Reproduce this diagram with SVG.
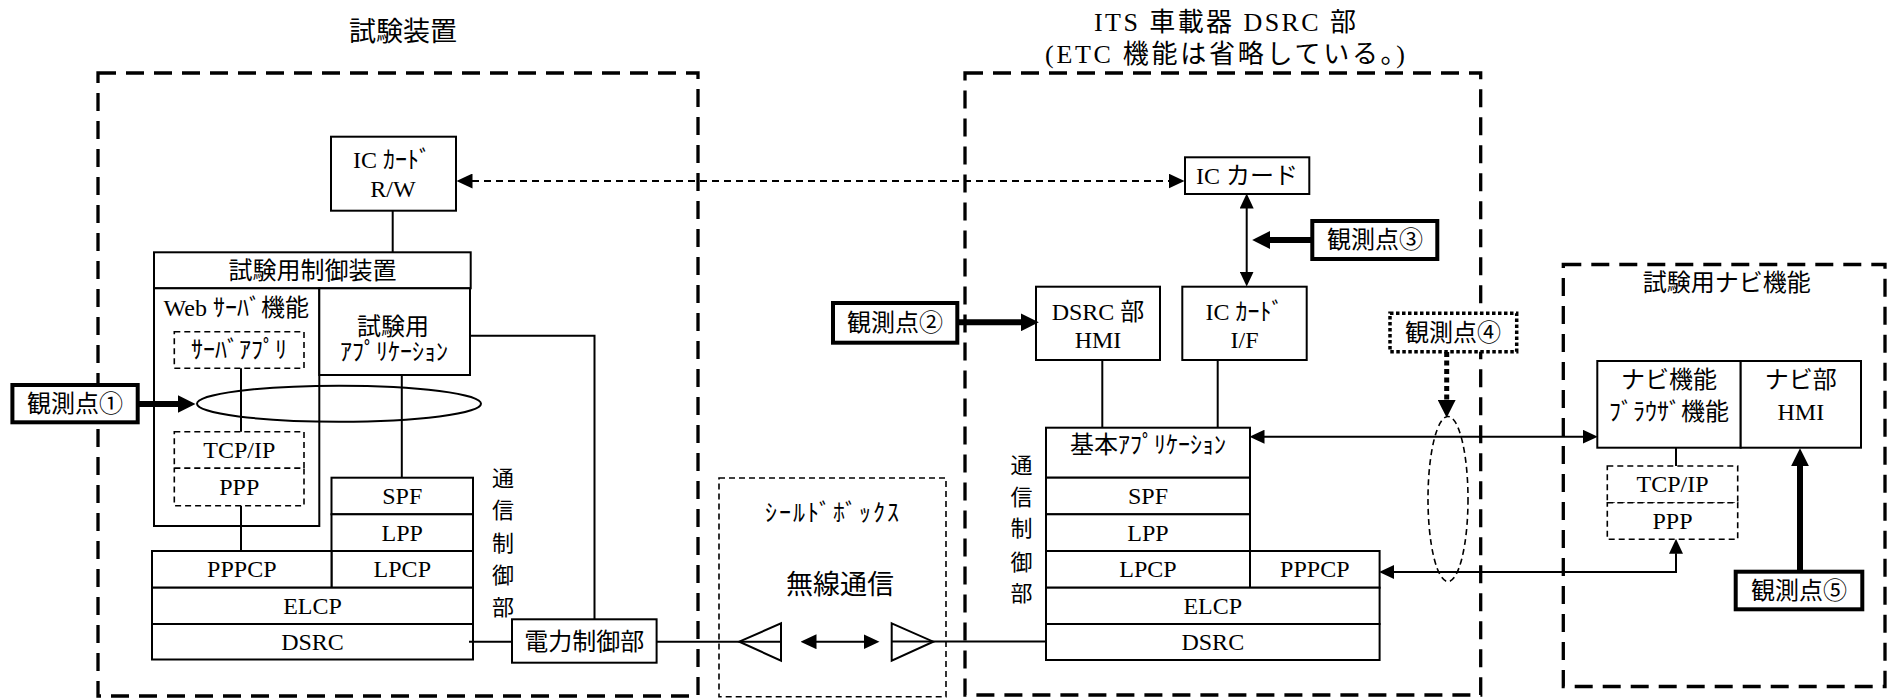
<svg xmlns="http://www.w3.org/2000/svg" width="1892" height="699" viewBox="0 0 1892 699">
<defs>
<style>
text{font-family:"Liberation Serif","Noto Sans CJK JP",serif;font-size:24px;text-anchor:middle;dominant-baseline:central;fill:#000}
.frame{fill:none;stroke:#000;stroke-width:3.3;stroke-dasharray:18 10}
.shield{fill:none;stroke:#000;stroke-width:1.6;stroke-dasharray:6 4}
.box{fill:#fff;stroke:#000;stroke-width:2}
.dbox{fill:#fff;stroke:#000;stroke-width:1.6;stroke-dasharray:6 4}
.obs{fill:#fff;stroke:#000;stroke-width:4}
.dot{fill:#fff;stroke:#000;stroke-width:3.5;stroke-dasharray:3.5 2.5}
.ln{fill:none;stroke:#000;stroke-width:2}
.dl{fill:none;stroke:#000;stroke-width:1.8;stroke-dasharray:7 5}
.th{fill:none;stroke:#000;stroke-width:6}
.v{font-size:22px}
</style>
<marker id="a" viewBox="0 0 15 14" refX="0.5" refY="7" markerWidth="15" markerHeight="14" markerUnits="userSpaceOnUse" orient="auto-start-reverse"><path d="M0,0 L15,7 L0,14 z" fill="#000"/></marker>
<marker id="a16" viewBox="0 0 16 15" refX="0.5" refY="7.5" markerWidth="16" markerHeight="15" markerUnits="userSpaceOnUse" orient="auto-start-reverse"><path d="M0,0 L16,7.5 L0,15 z" fill="#000"/></marker>
<marker id="at" viewBox="0 0 18 18" refX="0.5" refY="9" markerWidth="18" markerHeight="18" markerUnits="userSpaceOnUse" orient="auto-start-reverse"><path d="M0,0 L18,9 L0,18 z" fill="#000"/></marker>
</defs>
<rect width="1892" height="699" fill="#fff"/>

<g id="frames">
<rect class="frame" x="98" y="73" width="600" height="623"/>
<rect class="frame" x="965" y="73" width="515.7" height="622"/>
<rect class="frame" x="1563.3" y="264.5" width="321.7" height="422"/>
<rect class="shield" x="719" y="478" width="227" height="218.7"/>
</g>

<g id="titles">
<text x="403" y="31.5" style="font-size:27px">試験装置</text>
<text x="1225" y="22.5" style="font-size:26px" textLength="262" lengthAdjust="spacing">ITS 車載器 DSRC 部</text>
<text x="1225" y="54" style="font-size:26px" textLength="360" lengthAdjust="spacing">(ETC 機能は省略している。)</text>
<text x="833" y="513" style="letter-spacing:2px">ｼｰﾙﾄﾞﾎﾞｯｸｽ</text>
<text x="840" y="585" style="font-size:27px">無線通信</text>
<text x="1726.7" y="283.3">試験用ナビ機能</text>
</g>

<g id="antenna-left"><polygon points="739.3,641.7 781,623.3 781,660.7" fill="none" stroke="#000" stroke-width="2"/></g>
<g id="antenna-right"><polygon points="891.7,623.3 933.3,641.7 891.7,660.7" fill="none" stroke="#000" stroke-width="2"/></g>

<g id="ic-rw">
<rect class="box" x="331" y="136.7" width="125" height="74"/>
<text x="392" y="160">IC ｶｰﾄﾞ</text>
<text x="393" y="188.5">R/W</text>
</g>
<g id="test-ctrl">
<rect class="box" x="154" y="252.3" width="316.7" height="36"/>
<text x="312.5" y="270.5">試験用制御装置</text>
</g>
<g id="web-server">
<rect class="box" x="154" y="288.3" width="165.3" height="237.7"/>
<text x="236.3" y="308.3">Web ｻｰﾊﾞ機能</text>
</g>
<g id="server-app">
<rect class="dbox" x="174.3" y="331.7" width="129.7" height="36.6"/>
<text x="239" y="350">ｻｰﾊﾞｱﾌﾟﾘ</text>
</g>
<g id="test-app">
<rect class="box" x="319.3" y="288.3" width="150.7" height="86.7"/>
<text x="393" y="326.7">試験用</text>
<text x="394" y="351.7">ｱﾌﾟﾘｹｰｼｮﾝ</text>
</g>
<g id="l-tcpip">
<rect class="dbox" x="174.3" y="431.7" width="129.7" height="36.6"/>
<text x="239.3" y="450">TCP/IP</text>
</g>
<g id="l-ppp">
<rect class="dbox" x="174.3" y="468.3" width="129.7" height="37.4"/>
<text x="239.3" y="487">PPP</text>
</g>
<g id="l-spf"><rect class="box" x="331.5" y="477.7" width="141.5" height="36.6"/><text x="402.3" y="496">SPF</text></g>
<g id="l-lpp"><rect class="box" x="331.5" y="514.3" width="141.5" height="36.7"/><text x="402.3" y="532.7">LPP</text></g>
<g id="l-lpcp"><rect class="box" x="331.5" y="551" width="141.5" height="36.7"/><text x="402.3" y="569.3">LPCP</text></g>
<g id="l-pppcp"><rect class="box" x="152" y="551" width="179.5" height="36.7"/><text x="241.8" y="569.3">PPPCP</text></g>
<g id="l-elcp"><rect class="box" x="152" y="587.7" width="321" height="36.3"/><text x="312.5" y="606">ELCP</text></g>
<g id="l-dsrc"><rect class="box" x="152" y="624" width="321" height="35.5"/><text x="312.5" y="641.5">DSRC</text></g>
<g id="l-comm-label"><text class="v"><tspan x="503" y="478">通</tspan><tspan x="503" y="510">信</tspan><tspan x="503" y="543">制</tspan><tspan x="503" y="575">御</tspan><tspan x="503" y="607">部</tspan></text></g>
<g id="power-ctrl"><rect class="box" x="512" y="619.3" width="144.6" height="43.4"/><text x="584.3" y="641.5">電力制御部</text></g>
<g id="obs1"><rect class="obs" x="12.4" y="385" width="125.3" height="37.3"/><text x="75" y="404">観測点①</text></g>

<g id="ic-card">
<rect class="box" x="1185" y="157.3" width="124.3" height="36.7"/>
<text x="1247" y="175.7">IC カード</text>
</g>
<g id="obs2"><rect class="obs" x="833" y="303" width="124.3" height="39.7"/><text x="895" y="322.5">観測点②</text></g>
<g id="obs3"><rect class="obs" x="1312.3" y="221" width="125" height="38"/><text x="1375" y="240">観測点③</text></g>
<g id="obs4"><rect class="dot" x="1390" y="313.3" width="126.7" height="38.4"/><text x="1453" y="332.5">観測点④</text></g>
<g id="dsrc-hmi">
<rect class="box" x="1036" y="286.7" width="124" height="73.3"/>
<text x="1098" y="311.7">DSRC 部</text>
<text x="1098" y="340">HMI</text>
</g>
<g id="ic-if">
<rect class="box" x="1182.3" y="286.7" width="124.4" height="73.3"/>
<text x="1244.5" y="311.7">IC ｶｰﾄﾞ</text>
<text x="1244.5" y="340">I/F</text>
</g>
<g id="r-basic"><rect class="box" x="1046" y="427.7" width="204" height="50"/><text x="1148" y="445">基本ｱﾌﾟﾘｹｰｼｮﾝ</text></g>
<g id="r-spf"><rect class="box" x="1046" y="477.7" width="204" height="36.6"/><text x="1148" y="496">SPF</text></g>
<g id="r-lpp"><rect class="box" x="1046" y="514.3" width="204" height="36.7"/><text x="1148" y="532.7">LPP</text></g>
<g id="r-lpcp"><rect class="box" x="1046" y="551" width="204" height="36.7"/><text x="1148" y="569.3">LPCP</text></g>
<g id="r-pppcp"><rect class="box" x="1250" y="551" width="129.6" height="36.7"/><text x="1314.8" y="569.3">PPPCP</text></g>
<g id="r-elcp"><rect class="box" x="1046" y="587.7" width="333.6" height="36.3"/><text x="1212.8" y="606">ELCP</text></g>
<g id="r-dsrc"><rect class="box" x="1046" y="624" width="333.6" height="36"/><text x="1212.8" y="642">DSRC</text></g>
<g id="r-comm-label"><text class="v"><tspan x="1021.4" y="465">通</tspan><tspan x="1021.4" y="496.7">信</tspan><tspan x="1021.4" y="528">制</tspan><tspan x="1021.4" y="561.7">御</tspan><tspan x="1021.4" y="593.3">部</tspan></text></g>

<g id="navi-func">
<rect class="box" x="1597.3" y="361" width="143.4" height="86.7"/>
<text x="1669" y="380">ナビ機能</text>
<text x="1669" y="411.7">ﾌﾞﾗｳｻﾞ機能</text>
</g>
<g id="navi-hmi">
<rect class="box" x="1740.7" y="361" width="120.3" height="86.7"/>
<text x="1800.8" y="380">ナビ部</text>
<text x="1800.8" y="411.7">HMI</text>
</g>
<g id="n-tcpip"><rect class="dbox" x="1607.3" y="466" width="130.4" height="36.7"/><text x="1672.5" y="484.3">TCP/IP</text></g>
<g id="n-ppp"><rect class="dbox" x="1607.3" y="502.7" width="130.4" height="36.6"/><text x="1672.5" y="521">PPP</text></g>
<g id="obs5"><rect class="obs" x="1735.7" y="571.7" width="126.6" height="37.6"/><text x="1799" y="590.5">観測点⑤</text></g>

<g id="connectors">
<line class="ln" x1="392.7" y1="210.7" x2="392.7" y2="252.3"/>
<path class="ln" d="M470,335.7 H594.5 V619.3"/>
<line class="ln" x1="241" y1="368.3" x2="241" y2="431.7"/>
<line class="ln" x1="401.8" y1="375" x2="401.8" y2="477.7"/>
<line class="ln" x1="241" y1="505.7" x2="241" y2="551"/>
<line class="ln" x1="469" y1="641.7" x2="512" y2="641.7"/>
<line class="ln" x1="656.6" y1="641.7" x2="781" y2="641.7"/>
<line class="ln" x1="891.7" y1="641.5" x2="1046" y2="641.5"/>
<line class="ln" x1="816" y1="641.7" x2="864" y2="641.7" marker-start="url(#a16)" marker-end="url(#a16)"/>
<line class="dl" x1="472" y1="181" x2="1169" y2="181" marker-start="url(#a16)" marker-end="url(#a16)"/>
<line class="ln" x1="1246.7" y1="208" x2="1246.7" y2="272" marker-start="url(#a)" marker-end="url(#a)"/>
<line class="ln" x1="1102.3" y1="360" x2="1102.3" y2="427.7"/>
<line class="ln" x1="1217.7" y1="360" x2="1217.7" y2="427.7"/>
<line class="ln" x1="1264" y1="436.7" x2="1583.3" y2="436.7" marker-start="url(#a)" marker-end="url(#a)"/>
<path class="ln" d="M1393.6,572 H1676 V553.3" marker-start="url(#a)" marker-end="url(#a)"/>
<line class="ln" x1="1676" y1="447.7" x2="1676" y2="466"/>
<line class="th" x1="138" y1="404" x2="178" y2="404" marker-end="url(#at)"/>
<line class="th" x1="957.3" y1="322.3" x2="1021.3" y2="322.3" marker-end="url(#at)"/>
<line class="th" x1="1312.3" y1="240" x2="1269.7" y2="240" marker-end="url(#at)"/>
<line class="th" x1="1800" y1="571.7" x2="1800" y2="465.7" marker-end="url(#at)"/>
<line fill="none" stroke="#000" stroke-width="5" stroke-dasharray="5 3.5" x1="1446.7" y1="352" x2="1446.7" y2="400.3" marker-end="url(#at)"/>
<ellipse cx="339" cy="403.7" rx="142" ry="18" class="ln"/>
<ellipse cx="1448" cy="499" rx="20" ry="82.5" fill="none" stroke="#000" stroke-width="1.6" stroke-dasharray="6 4"/>
</g>
</svg>
